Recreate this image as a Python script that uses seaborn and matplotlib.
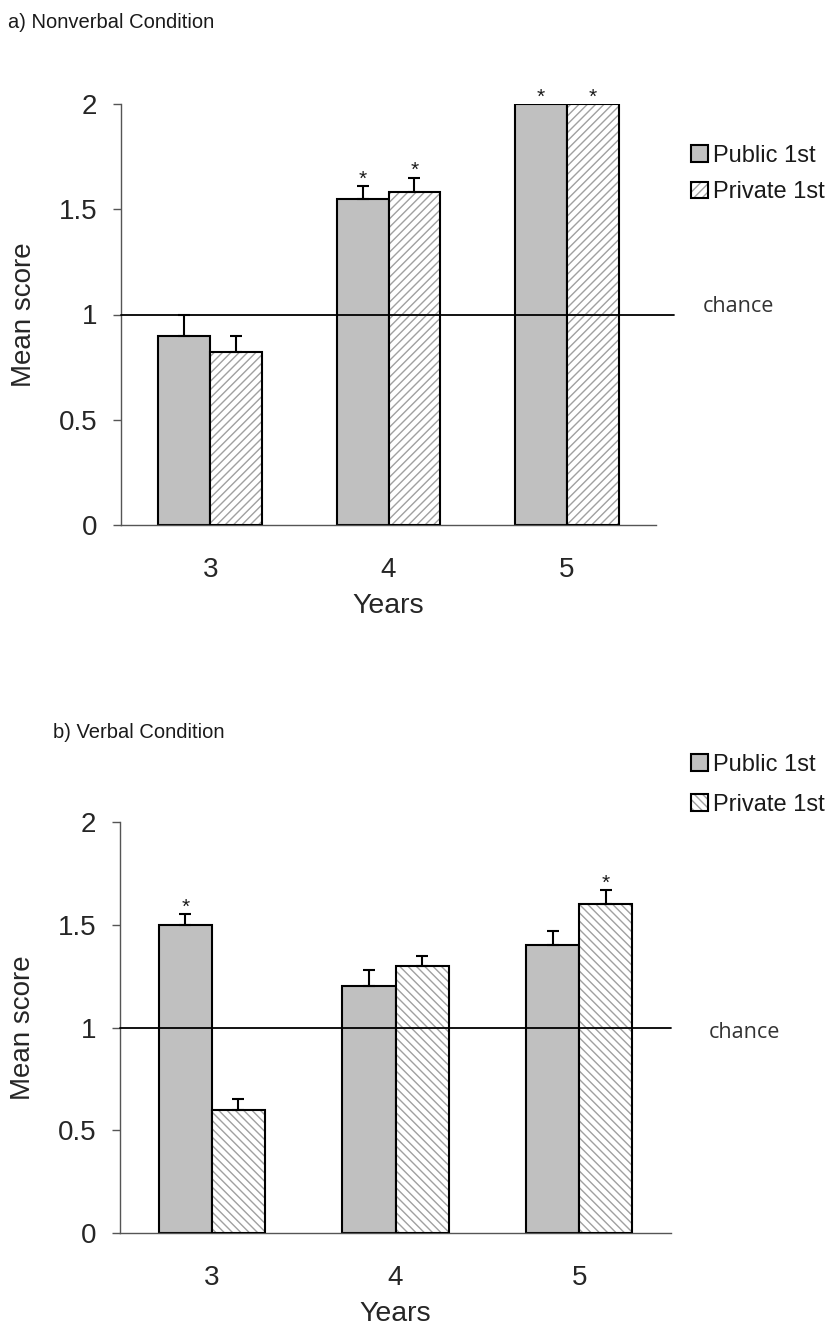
import numpy as np
import pandas as pd
import seaborn as sns
import matplotlib.pyplot as plt
from matplotlib.patches import Patch, Rectangle
from matplotlib.legend_handler import HandlerTuple
from matplotlib.ticker import FuncFormatter
from matplotlib.transforms import blended_transform_factory

ages = ['3', '4', '5']
groups = ['Public 1st', 'Private 1st']

nonverbal_public = [0.90, 1.55, 2.00]
nonverbal_private = [0.82, 1.58, 2.00]
nonverbal_public_err = [0.10, 0.06, 0.0]
nonverbal_private_err = [0.08, 0.07, 0.0]
nonverbal_public_star = [False, True, True]
nonverbal_private_star = [False, True, True]

verbal_public = [1.50, 1.20, 1.40]
verbal_private = [0.60, 1.30, 1.60]
verbal_public_err = [0.05, 0.08, 0.07]
verbal_private_err = [0.05, 0.05, 0.07]
verbal_public_star = [True, False, False]
verbal_private_star = [False, False, True]

yticks = [0, 0.5, 1, 1.5, 2]
chance_level = 1.0

PUBLIC_COLOR = '#c0c0c0'
HATCH_COLOR = '#a0a0a0'
AXIS_COLOR = '#555555'

sns.set_theme(style='white')
plt.rcParams['font.family'] = ['Liberation Sans', 'DejaVu Sans']
plt.rcParams['hatch.linewidth'] = 1.0
plt.rcParams['text.color'] = '#1a1a1a'


def draw_panel(ax, public, private, public_err, private_err, public_star, private_star,
               hatch, chance_xmax, chance_tx, chance_dy, leg_anchor, leg_spacing):
    df = pd.DataFrame({
        'age': ages + ages,
        'group': [groups[0]] * len(ages) + [groups[1]] * len(ages),
        'score': public + private,
    })
    sns.barplot(data=df, x='age', y='score', hue='group', order=ages, hue_order=groups,
                palette={groups[0]: PUBLIC_COLOR, groups[1]: 'white'}, saturation=1,
                edgecolor='black', linewidth=1.5, width=0.58, errorbar=None,
                legend=False, ax=ax, zorder=2)

    errs = [public_err, private_err]
    stars = [public_star, private_star]
    bar_conts = list(ax.containers)
    for k, cont in enumerate(bar_conts):
        for j, p in enumerate(cont.patches):
            if k == 1:
                p.set_facecolor('white')
                p.set_edgecolor(HATCH_COLOR)
                p.set_linewidth(0)
                p.set_hatch(hatch)
                ax.add_patch(Rectangle(p.get_xy(), p.get_width(), p.get_height(),
                                       fill=False, ec='black', lw=1.5, zorder=3))
            xc = p.get_x() + p.get_width() / 2
            top = p.get_height()
            e = errs[k][j]
            if e > 0:
                ax.errorbar(xc, top, yerr=[[0], [e]], fmt='none', ecolor='black',
                            elinewidth=1.5, capsize=4.5, capthick=1.5, zorder=4)
            if stars[k][j]:
                ax.annotate('*', (xc, top + e), xytext=(0, 1), textcoords='offset points',
                            ha='center', va='baseline', fontsize=15, annotation_clip=False)

    ax.axhline(chance_level, xmin=0, xmax=chance_xmax, color='black', lw=1.3,
               clip_on=False, zorder=5)
    trans = blended_transform_factory(ax.transAxes, ax.transData)
    ax.text(chance_tx, chance_level + chance_dy, 'chance', transform=trans, va='baseline',
            ha='left', fontsize=15.5, family=['Open Sans', 'DejaVu Sans'], color='#333333')

    ax.set_xlim(-0.5, len(ages) - 0.5)
    ax.set_ylim(0, 2)
    ax.set_yticks(yticks)
    ax.yaxis.set_major_formatter(FuncFormatter(lambda v, _: f'{v:g}'))
    ax.set_xticks(np.arange(-0.5, len(ages)), minor=True)
    ax.tick_params(axis='x', which='major', length=0, pad=23, labelsize=20)
    ax.tick_params(axis='x', which='minor', length=8, width=1, color=AXIS_COLOR, direction='out')
    ax.tick_params(axis='y', which='major', length=6, width=1, color=AXIS_COLOR,
                   direction='out', left=True, pad=11, labelsize=20)
    ax.set_xlabel('Years', fontsize=20.5, labelpad=7)
    ax.set_ylabel('Mean score', fontsize=20, labelpad=16)
    sns.despine(ax=ax)
    for s in ['left', 'bottom']:
        ax.spines[s].set_color(AXIS_COLOR)
        ax.spines[s].set_linewidth(1)

    handles = [
        Patch(facecolor=PUBLIC_COLOR, edgecolor='black', lw=1.5),
        (Patch(facecolor='white', edgecolor=HATCH_COLOR, hatch=hatch, lw=0),
         Patch(fill=False, edgecolor='black', lw=1.5)),
    ]
    ax.legend(handles, groups, handler_map={tuple: HandlerTuple(ndivide=1)},
              loc='upper left', bbox_to_anchor=leg_anchor, bbox_transform=ax.figure.transFigure,
              frameon=False, fontsize=17, borderpad=0, borderaxespad=0,
              handlelength=0.7, handleheight=0.7, handletextpad=0.25, labelspacing=leg_spacing)


fig = plt.figure(figsize=(8.38, 13.32), dpi=100)
W, H = 838, 1332
ax1 = fig.add_axes([121 / W, 1 - 525 / H, (656 - 121) / W, (525 - 104) / H])
ax2 = fig.add_axes([120 / W, 1 - 1233 / H, (671 - 120) / W, (1233 - 822) / H])

draw_panel(ax1, nonverbal_public, nonverbal_private, nonverbal_public_err, nonverbal_private_err,
           nonverbal_public_star, nonverbal_private_star, '////',
           chance_xmax=1.034, chance_tx=1.088, chance_dy=0.01,
           leg_anchor=(691 / W, 1 - 145 / H), leg_spacing=0.6)
draw_panel(ax2, verbal_public, verbal_private, verbal_public_err, verbal_private_err,
           verbal_public_star, verbal_private_star, '\\\\\\\\',
           chance_xmax=1.0, chance_tx=1.069, chance_dy=-0.049,
           leg_anchor=(691 / W, 1 - 754 / H), leg_spacing=0.75)

fig.text(8 / W, 1 - 23 / H, 'a) Nonverbal Condition', va='center', ha='left', fontsize=14.5)
fig.text(53 / W, 1 - 733 / H, 'b) Verbal Condition', va='center', ha='left', fontsize=14.5)

fig.savefig('out.png', dpi=100)
